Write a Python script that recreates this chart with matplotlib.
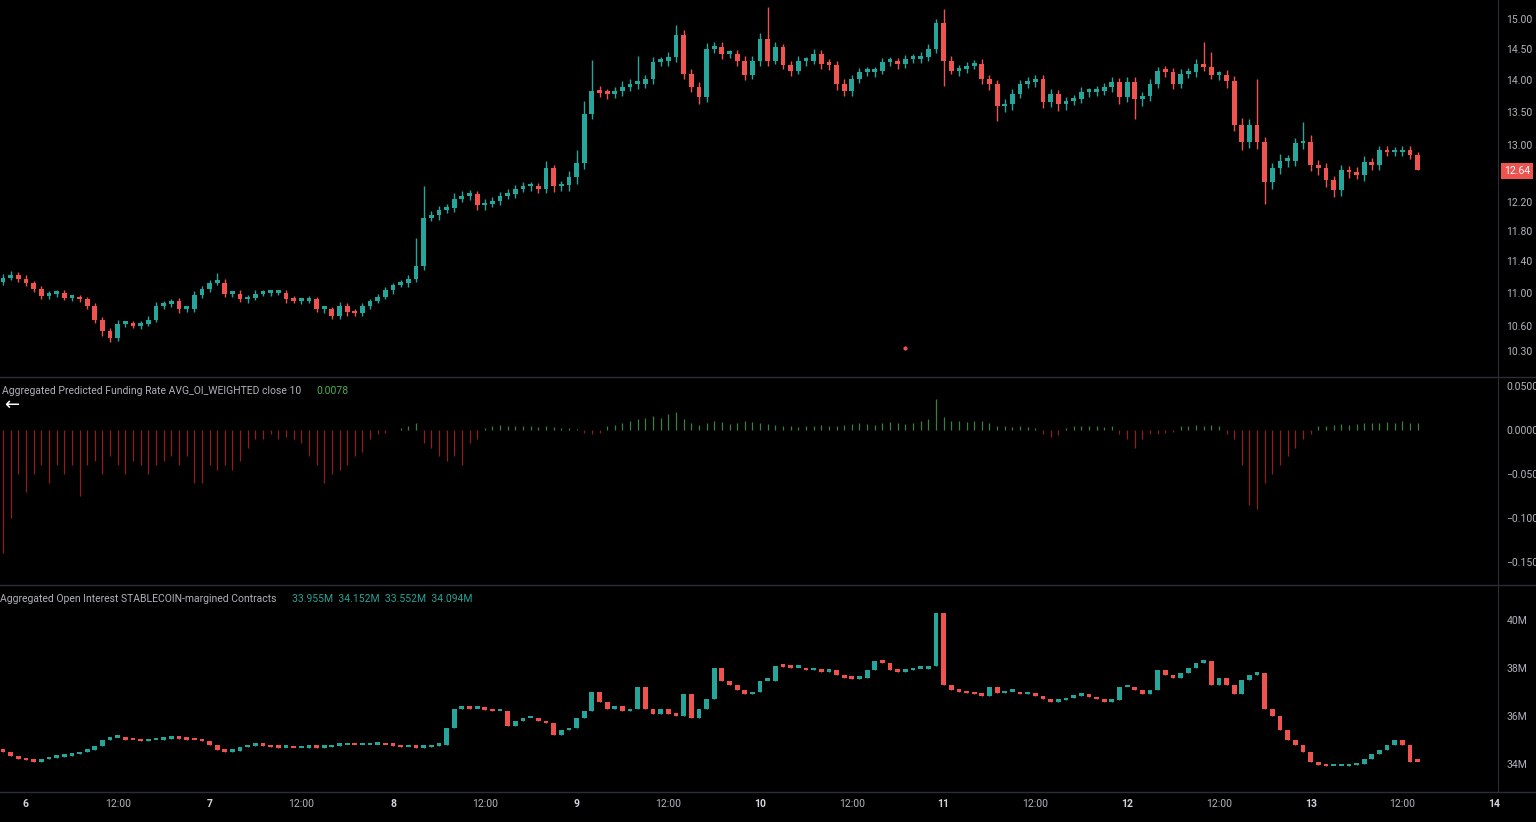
import matplotlib
matplotlib.use("Agg")
import matplotlib.pyplot as plt
from matplotlib.ticker import FixedLocator, NullLocator
plt.rcParams["font.family"] = ["Roboto", "DejaVu Sans"]

BG = "#000000"
UP = "#26a69a"
DOWN = "#ef5350"
TXT = "#b2b5be"
SEP = "#2a2e39"

# hourly candles, index 3 = day 6 00:00
first_open = 11.14
closes = [
    11.19, 11.23, 11.18, 11.12, 11.05, 10.96, 10.99, 11.00, 10.94, 10.94,
    10.92, 10.84, 10.67, 10.53, 10.45, 10.62, 10.62, 10.60, 10.62, 10.67,
    10.84, 10.86, 10.90, 10.80, 10.80, 10.97, 11.05, 11.13, 11.13, 10.99,
    10.99, 10.92, 10.94, 10.99, 11.00, 11.00, 11.00, 10.92, 10.90, 10.90,
    10.92, 10.80, 10.80, 10.72, 10.84, 10.77, 10.75, 10.84, 10.90, 10.95,
    11.03, 11.10, 11.12, 11.18, 11.34, 11.97, 12.01, 12.09, 12.11, 12.24,
    12.28, 12.31, 12.15, 12.17, 12.21, 12.28, 12.31, 12.38, 12.41, 12.41,
    12.38, 12.67, 12.41, 12.43, 12.55, 12.74, 13.47, 13.83, 13.80, 13.78,
    13.83, 13.89, 13.94, 13.94, 14.02, 14.29, 14.31, 14.37, 14.74, 14.10,
    13.89, 13.73, 14.50, 14.53, 14.42, 14.42, 14.31, 14.08, 14.31, 14.66,
    14.31, 14.53, 14.24, 14.15, 14.31, 14.31, 14.42, 14.26, 14.24, 13.94,
    13.83, 14.02, 14.13, 14.13, 14.15, 14.29, 14.29, 14.26, 14.34, 14.34,
    14.37, 14.50, 14.94, 14.31, 14.15, 14.18, 14.23, 14.26, 14.02, 13.94,
    13.59, 13.62, 13.78, 13.94, 13.97, 14.02, 13.66, 13.78, 13.62, 13.67,
    13.70, 13.81, 13.81, 13.83, 13.89, 13.97, 13.73, 13.97, 13.70, 13.75,
    13.94, 14.15, 14.13, 13.94, 14.10, 14.13, 14.26, 14.21, 14.08, 14.08,
    13.98, 13.31, 13.05, 13.31, 13.05, 12.47, 12.67, 12.78, 12.78, 13.03,
    13.05, 12.71, 12.67, 12.50, 12.36, 12.64, 12.61, 12.57, 12.76, 12.71,
    12.93, 12.90, 12.90, 12.93, 12.86, 12.64,
]
# wick extensions above / below the body, in cents
wick_up = [
    5, 4, 3, 4, 3, 4, 3, 3, 4, 3, 3, 3, 4, 3, 4, 5, 3, 4, 3, 4,
    5, 4, 3, 4, 3, 5, 4, 3, 12, 4, 3, 4, 3, 4, 3, 4, 3, 3, 4, 3,
    4, 3, 4, 3, 5, 4, 3, 4, 3, 4, 4, 3, 4, 5, 36, 45, 6, 5, 6, 8,
    6, 5, 4, 6, 5, 5, 6, 5, 6, 6, 5, 10, 5, 6, 8, 20, 20, 50, 8, 6,
    6, 10, 8, 45, 6, 8, 6, 8, 16, 8, 8, 8, 10, 8, 8, 6, 6, 8, 8, 10,
    55, 8, 6, 6, 8, 6, 8, 6, 8, 6, 8, 6, 6, 8, 6, 6, 8, 6, 6, 8,
    8, 8, 6, 24, 8, 6, 6, 6, 8, 6, 6, 8, 8, 6, 8, 6, 6, 8, 6, 6,
    6, 8, 6, 8, 6, 8, 6, 8, 8, 6, 8, 6, 8, 6, 8, 6, 8, 35, 25, 6,
    8, 8, 10, 8, 70, 8, 8, 10, 8, 8, 30, 10, 8, 8, 6, 8, 6, 8, 8, 6,
    6, 6, 8, 6, 6, 4,
]
wick_dn = [
    4, 3, 4, 3, 4, 3, 3, 4, 3, 4, 3, 4, 4, 5, 4, 3, 4, 3, 4, 3,
    3, 4, 4, 5, 3, 4, 3, 4, 3, 4, 4, 3, 4, 3, 3, 4, 3, 4, 3, 4,
    3, 4, 5, 4, 4, 5, 4, 3, 4, 3, 3, 4, 3, 4, 4, 5, 4, 6, 5, 6,
    5, 6, 6, 6, 5, 6, 5, 6, 5, 6, 6, 6, 8, 6, 8, 10, 8, 8, 6, 8,
    6, 8, 6, 8, 6, 8, 6, 8, 8, 8, 8, 10, 8, 6, 8, 6, 8, 8, 6, 8,
    8, 6, 6, 8, 6, 8, 6, 8, 8, 10, 8, 8, 6, 6, 8, 6, 6, 8, 6, 6,
    6, 6, 6, 40, 6, 8, 6, 6, 8, 10, 23, 8, 8, 6, 6, 8, 10, 8, 10, 8,
    6, 6, 8, 6, 6, 8, 10, 8, 30, 10, 8, 6, 8, 8, 6, 6, 8, 6, 6, 8,
    10, 10, 12, 8, 10, 30, 10, 8, 10, 8, 8, 8, 10, 10, 10, 8, 8, 6, 8, 6,
    6, 6, 6, 6, 6, 0,
]
funding = [
    -0.14, -0.10, -0.05, -0.07, -0.05, -0.04, -0.06, -0.04, -0.05, -0.04,
    -0.075, -0.04, -0.035, -0.05, -0.03, -0.04, -0.05, -0.035, -0.04, -0.05,
    -0.04, -0.035, -0.03, -0.04, -0.03, -0.06, -0.06, -0.04, -0.045, -0.04,
    -0.045, -0.035, -0.02, -0.01, -0.01, -0.005, -0.01, -0.008, -0.01, -0.015,
    -0.03, -0.04, -0.06, -0.05, -0.045, -0.04, -0.03, -0.025, -0.01, -0.005,
    -0.003, 0.0, 0.002, 0.005, 0.008, -0.015, -0.02, -0.03, -0.035, -0.03,
    -0.04, -0.015, -0.01, 0.002, 0.005, 0.006, 0.005, 0.004, 0.005, 0.004,
    0.003, 0.004, 0.003, 0.002, 0.002, 0.001, -0.003, -0.005, -0.003, 0.004,
    0.006, 0.008, 0.01, 0.012, 0.014, 0.016, 0.014, 0.018, 0.02, 0.012,
    0.008, 0.006, 0.008, 0.01, 0.009, 0.007, 0.008, 0.01, 0.009, 0.008,
    0.007, 0.006, 0.005, 0.004, 0.003, 0.004, 0.005, 0.006, 0.005, 0.004,
    0.006, 0.007, 0.008, 0.007, 0.006, 0.008, 0.009, 0.008, 0.007, 0.008,
    0.01, 0.012, 0.035, 0.015, 0.01, 0.01, 0.009, 0.01, 0.01, 0.008,
    0.004, 0.004, 0.003, 0.004, 0.003, 0.002, -0.005, -0.008, -0.006, 0.002,
    0.004, 0.005, 0.004, 0.004, 0.003, 0.004, -0.005, -0.01, -0.02, -0.01,
    -0.005, -0.004, -0.003, -0.002, 0.004, 0.005, 0.006, 0.005, 0.006, 0.004,
    -0.005, -0.01, -0.04, -0.085, -0.09, -0.06, -0.05, -0.04, -0.03, -0.02,
    -0.01, -0.005, 0.004, 0.005, 0.006, 0.007, 0.006, 0.007, 0.008, 0.008,
    0.008, 0.009, 0.008, 0.01, 0.008, 0.0078,
]
oi_first_open = 34.6
oi_closes = [
    34.5, 34.35, 34.2, 34.15, 34.1, 34.2, 34.25, 34.3, 34.35, 34.4,
    34.5, 34.6, 34.75, 35.0, 35.1, 35.1, 35.0, 34.98, 34.95, 34.98,
    35.0, 35.05, 35.1, 35.05, 35.0, 34.98, 34.95, 34.8, 34.6, 34.5,
    34.55, 34.7, 34.75, 34.8, 34.75, 34.7, 34.68, 34.68, 34.65, 34.68,
    34.7, 34.68, 34.7, 34.75, 34.78, 34.8, 34.78, 34.78, 34.8, 34.8,
    34.78, 34.75, 34.7, 34.7, 34.68, 34.7, 34.75, 34.8, 35.5, 36.3,
    36.4, 36.3, 36.3, 36.25, 36.2, 36.2, 35.6, 35.8, 35.9, 35.9,
    35.8, 35.7, 35.2, 35.4, 35.5, 35.9, 36.2, 37.0, 36.6, 36.3,
    36.4, 36.2, 36.3, 37.2, 36.3, 36.1, 36.3, 36.1, 36.0, 36.9,
    35.9, 36.3, 36.7, 38.0, 37.45, 37.3, 37.1, 36.9, 37.0, 37.45,
    37.45, 38.1, 38.05, 38.0, 38.0, 37.9, 37.95, 37.85, 37.9, 37.7,
    37.6, 37.55, 37.6, 37.9, 38.3, 38.2, 37.9, 37.85, 37.9, 37.95,
    37.95, 38.1, 40.3, 37.3, 37.1, 37.0, 36.95, 36.9, 36.85, 37.2,
    36.95, 37.0, 37.0, 36.9, 36.95, 36.85, 36.7, 36.6, 36.65, 36.75,
    36.85, 36.9, 36.8, 36.7, 36.6, 36.65, 37.2, 37.2, 37.1, 36.9,
    37.1, 37.9, 37.7, 37.6, 37.8, 38.0, 38.2, 38.3, 37.3, 37.6,
    37.3, 36.9, 37.5, 37.7, 37.8, 36.3, 36.0, 35.4, 35.0, 34.8,
    34.5, 34.1, 33.95, 33.9, 33.9, 33.9, 33.95, 34.0, 34.2, 34.4,
    34.6, 34.8, 35.0, 34.8, 34.1, 34.094,
]
tick_pos = [3, 15, 27, 39, 51, 63, 75, 87, 99, 111, 123, 135, 147, 159, 171, 183, 195]
tick_labels = ["6", "12:00", "7", "12:00", "8", "12:00", "9", "12:00", "10",
               "12:00", "11", "12:00", "12", "12:00", "13", "12:00", "14"]
price_ticks = [10.30, 10.60, 11.00, 11.40, 11.80, 12.20, 13.00, 13.50, 14.00, 14.50, 15.00]
fund_ticks = [0.05, 0.0, -0.05, -0.10, -0.15]
fund_labels = ["0.0500", "0.0000", "\u22120.050", "\u22120.100", "\u22120.150"]
oi_ticks = [34, 36, 38, 40]
oi_labels = ["34M", "36M", "38M", "40M"]

W, H = 1536, 822
FS = 7.5
fig = plt.figure(figsize=(W / 100, H / 100), dpi=100, facecolor=BG)


def pane(top, bottom):
    ax = fig.add_axes([0, 1 - bottom / H, 1498 / W, (bottom - top) / H])
    ax.set_facecolor(BG)
    for s in ["top", "left", "bottom"]:
        ax.spines[s].set_visible(False)
    ax.spines["right"].set_color(SEP)
    ax.yaxis.tick_right()
    ax.tick_params(axis="y", colors=TXT, labelsize=FS, length=0, pad=6)
    ax.set_xticks([])
    ax.set_xlim(-0.4, 195.5)
    return ax


def candles(ax, opens, cl, hi, lo):
    for i, (o, c, h, l) in enumerate(zip(opens, cl, hi, lo)):
        col = UP if c >= o else DOWN
        ax.vlines(i, l, h, color=col, linewidth=1)
        bot, top = min(o, c), max(o, c)
        ax.bar(i, max(top - bot, 0.003 * top), bottom=bot, width=0.62, color=col, linewidth=0)


n = min(len(closes), len(wick_up), len(wick_dn))
opens = [first_open] + closes[:n - 1]
hi = [max(o, c) + u / 100 for o, c, u in zip(opens, closes, wick_up)]
lo = [min(o, c) - d / 100 for o, c, d in zip(opens, closes, wick_dn)]

ax1 = pane(0, 377)
ax1.set_yscale("log")
candles(ax1, opens, closes[:n], hi, lo)
ax1.set_ylim(10.0, 15.33)
ax1.yaxis.set_major_locator(FixedLocator(price_ticks))
ax1.yaxis.set_minor_locator(NullLocator())
ax1.set_yticklabels([f"{t:.2f}" for t in price_ticks])
ax1.scatter([118], [10.33], s=4, color=DOWN, zorder=5)
fig.text(1517 / W, 1 - 171 / H, f"{closes[-1]:.2f}", color="white", fontsize=FS,
         ha="center", va="center",
         bbox=dict(boxstyle="square,pad=0.3", fc=DOWN, ec="none"))

ax2 = pane(377, 585)
for i, v in enumerate(funding):
    ax2.vlines(i, 0, v, color="#4caf50" if v >= 0 else "#c62828", linewidth=0.9, alpha=0.75)
ax2.set_ylim(-0.176, 0.0602)
ax2.set_yticks(fund_ticks)
ax2.set_yticklabels(fund_labels)
fig.text(2 / W, 1 - 391 / H, "Aggregated Predicted Funding Rate AVG_OI_WEIGHTED close 10",
         color=TXT, fontsize=FS, va="center")
fig.text(316 / W, 1 - 391 / H, f"{funding[-1]:.4f}", color="#4caf50", fontsize=FS, va="center")
fig.text(12 / W, 1 - 405 / H, "\u2190", color="white", fontsize=13, ha="center", va="center")

ax3 = pane(585, 792)
m = len(oi_closes)
oi_opens = [oi_first_open] + oi_closes[:m - 1]
candles(ax3, oi_opens, oi_closes,
        [max(o, c) for o, c in zip(oi_opens, oi_closes)],
        [min(o, c) for o, c in zip(oi_opens, oi_closes)])
ax3.set_ylim(32.83, 41.46)
ax3.set_yticks(oi_ticks)
ax3.set_yticklabels(oi_labels)
fig.text(0, 1 - 599 / H, "Aggregated Open Interest STABLECOIN-margined Contracts",
         color=TXT, fontsize=FS, va="center")
fig.text(292 / W, 1 - 599 / H, "33.955M  34.152M  33.552M  34.094M",
         color=UP, fontsize=FS, va="center")

for y in (377, 585, 792):
    fig.add_artist(plt.Line2D([0, 1], [1 - y / H] * 2, color=SEP, linewidth=1))

axx = fig.add_axes([0, 0, 1498 / W, 30 / H])
axx.set_facecolor(BG)
axx.set_xlim(-0.4, 195.5)
axx.set_ylim(0, 1)
axx.axis("off")
for p, lab in zip(tick_pos, tick_labels):
    axx.text(p, 0.6, lab, color=TXT if ":" in lab else "#d1d4dc", fontsize=FS,
             ha="center", va="center", fontweight="normal" if ":" in lab else "bold")

fig.savefig("out.png", dpi=100, facecolor=BG)
